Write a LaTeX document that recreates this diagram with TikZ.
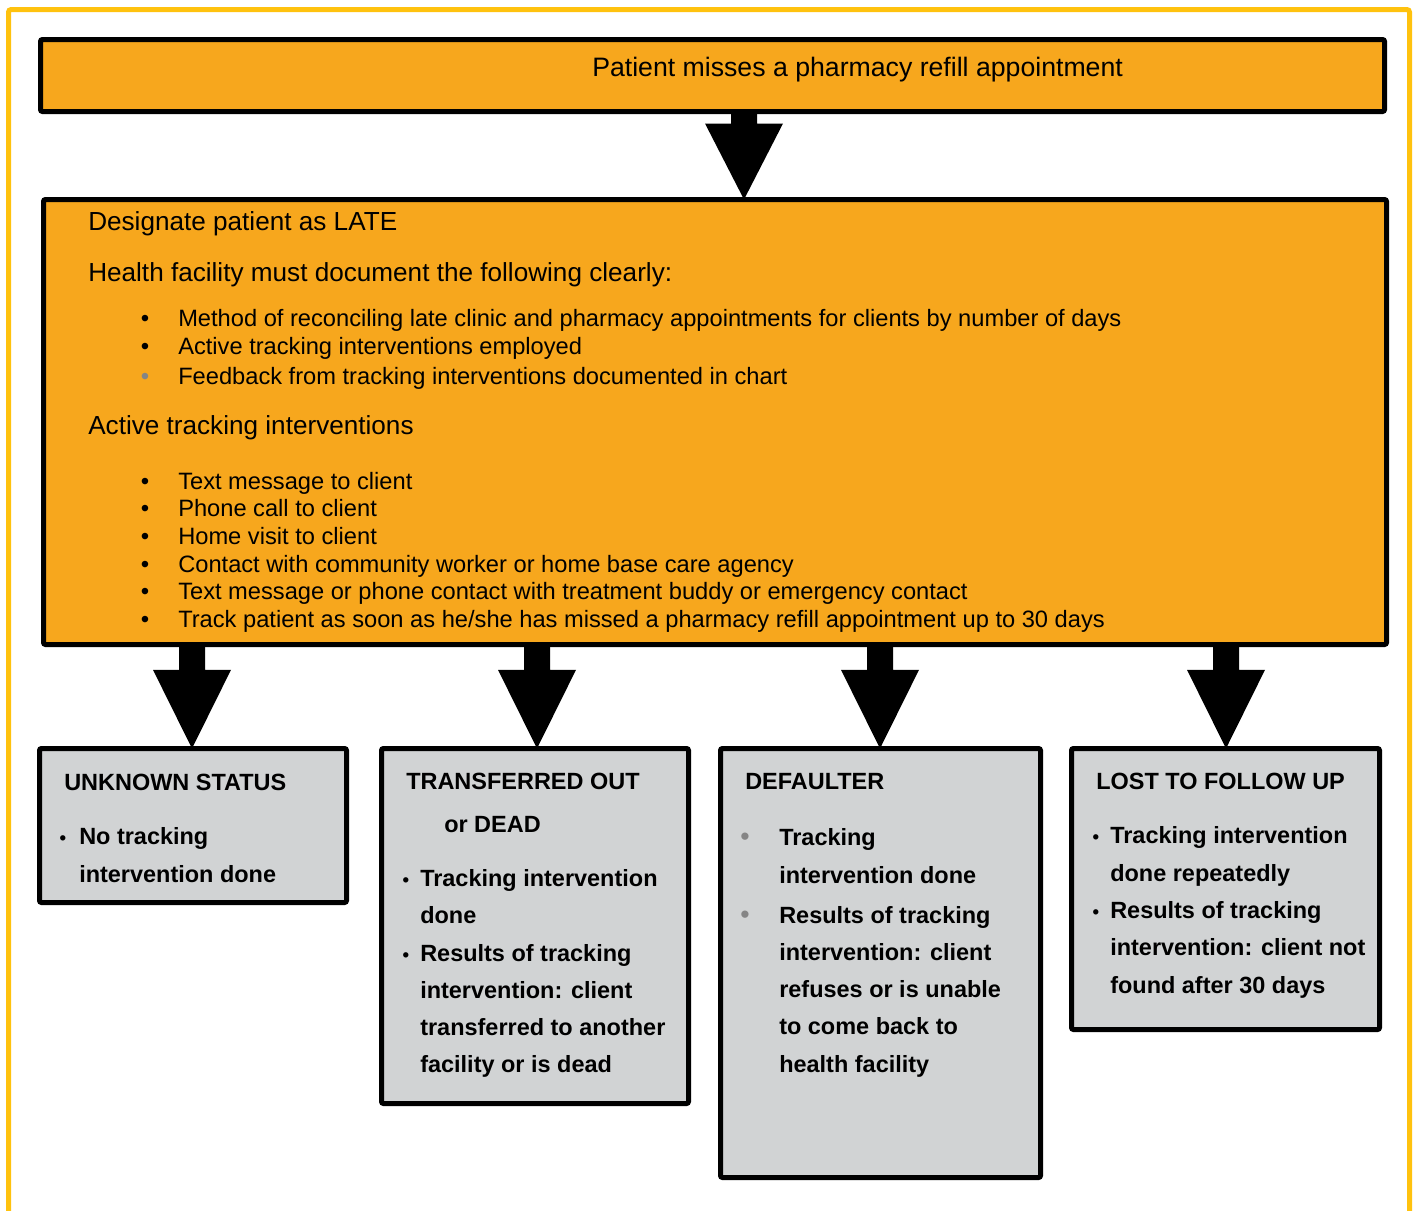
\documentclass[tikz,border=0pt]{standalone}
\usepackage{fontspec}
\setmainfont{Liberation Sans}
\usetikzlibrary{calc,fit}
\definecolor{frameyellow}{HTML}{FFC20E}
\definecolor{boxorange}{HTML}{F7A71D}
\definecolor{boxgray}{HTML}{D1D3D4}
\definecolor{bulgray}{HTML}{858585}
% #1 x (px), #2 from node, #3 to node, #4 head length
\newcommand\blockarrow[4]{%
  \fill let \p0=(#1,0), \p1=(#2.south), \p2=(#3.north) in
   (\x0-9.75pt,\y1) -- (\x0-9.75pt,\y2+#4) -- (\x0-29.25pt,\y2+#4) -- (\x0,\y2)
   -- (\x0+29.25pt,\y2+#4) -- (\x0+9.75pt,\y2+#4) -- (\x0+9.75pt,\y1) -- cycle;}
\begin{document}
\begin{tikzpicture}[x=0.75pt,y=-0.75pt,
  obox/.style={draw=black, line width=3.75pt, fill=boxorange, inner sep=0pt, outer sep=0pt, rounded corners=1.5pt},
  gbox/.style={draw=black, line width=3.75pt, fill=boxgray, inner sep=0pt, outer sep=0pt, rounded corners=1.5pt},
  txt/.style={anchor=base west, inner sep=0pt, font=\fontsize{17.75}{20}\selectfont},
  headtxt/.style={anchor=base west, inner sep=0pt, font=\fontsize{19.6}{22}\selectfont},
  gtxt/.style={anchor=base west, inner sep=0pt, font=\fontsize{17.6}{20}\selectfont\bfseries},
  bul/.style={anchor=base, inner sep=0pt, font=\fontsize{18}{20}\selectfont},
  gbul/.style={anchor=base, inner sep=0pt, font=\fontsize{14}{16}\selectfont\bfseries},
  dbul/.style={anchor=base, inner sep=0pt, text=bulgray, font=\fontsize{20}{20}\selectfont},
]
\useasboundingbox (0,0) rectangle (1416,1210);
\draw[frameyellow, line width=3.75pt, rounded corners=2pt] (8.5,1240) -- (8.5,9.5) -- (1409.5,9.5) -- (1409.5,1240);

% boxes
\node[obox, fit={(40.5,39.5) (1384.5,111.5)}] (top) {};
\node[obox, fit={(43.5,199.5) (1386.5,644.5)}] (main) {};
\node[gbox, fit={(39.5,748.5) (346.5,902.5)}] (g1) {};
\node[gbox, fit={(381.5,748.5) (688.5,1103.5)}] (g2) {};
\node[gbox, fit={(720.5,748.5) (1040.5,1177.5)}] (g3) {};
\node[gbox, fit={(1071.5,748.5) (1379.5,1029.5)}] (g4) {};

% arrows
\blockarrow{744}{top}{main}{57pt}
\blockarrow{192}{main}{g1}{59pt}
\blockarrow{537}{main}{g2}{59pt}
\blockarrow{880}{main}{g3}{59pt}
\blockarrow{1226}{main}{g4}{59pt}

% top text
\node[headtxt, font=\fontsize{20}{24}\selectfont] (t0) at (592,76.5) {Patient misses a pharmacy refill appointment};

% main box text
\node[headtxt] (m1) at (88,230) {Designate patient as LATE};
\node[headtxt] (m2) at (88,281) {Health facility must document the following clearly:};
\node[bul] (b1) at (145,326.5) {•};
\node[txt] (l1) at (178,326.5) {Method of reconciling late clinic and pharmacy appointments for clients by number of days};
\node[bul] (b2) at (145,354.5) {•};
\node[txt] (l2) at (178,354.5) {Active tracking interventions employed};
\node[bul, text=bulgray] (b3) at (145,384.5) {•};
\node[txt] (l3) at (178,384.5) {Feedback from tracking interventions documented in chart};
\node[headtxt] (m3) at (88,434) {Active tracking interventions};
\node[bul] (b4) at (145,489.5) {•};
\node[txt] (l4) at (178,489.5) {Text message to client};
\node[bul] (b5) at (145,516.5) {•};
\node[txt] (l5) at (178,516.5) {Phone call to client};
\node[bul] (b6) at (145,544.5) {•};
\node[txt] (l6) at (178,544.5) {Home visit to client};
\node[bul] (b7) at (145,572.5) {•};
\node[txt] (l7) at (178,572.5) {Contact with community worker or home base care agency};
\node[bul] (b8) at (145,599.5) {•};
\node[txt] (l8) at (178,599.5) {Text message or phone contact with treatment buddy or emergency contact};
\node[bul] (b9) at (145,627.5) {•};
\node[txt] (l9) at (178,627.5) {Track patient as soon as he/she has missed a pharmacy refill appointment up to 30 days};

% box 1
\node[gtxt] (g1t) at (64,790) {UNKNOWN STATUS};
\node[gbul] (g1b1) at (63,844) {•};
\node[gtxt] (g1l1) at (79,844) {No tracking};
\node[gtxt] (g1l2) at (79,882) {intervention done};

% box 2
\node[gtxt] (g2t) at (406,789) {TRANSFERRED OUT};
\node[gtxt] (g2t2) at (444,832) {or DEAD};
\node[gbul] (g2b1) at (406,886) {•};
\node[gtxt] (g2l1) at (420,886) {Tracking intervention};
\node[gtxt] (g2l2) at (420,923) {done};
\node[gbul] (g2b2) at (406,961) {•};
\node[gtxt] (g2l3) at (420,961) {Results of tracking};
\node[gtxt] (g2l4) at (420,998) {intervention: client};
\node[gtxt] (g2l5) at (420,1035) {transferred to another};
\node[gtxt] (g2l6) at (420,1072) {facility or is dead};

% box 3
\node[gtxt] (g3t) at (745,789) {DEFAULTER};
\node[dbul] (g3b1) at (745,845) {•};
\node[gtxt] (g3l1) at (779,845) {Tracking};
\node[gtxt] (g3l2) at (779,883) {intervention done};
\node[dbul] (g3b2) at (745,923) {•};
\node[gtxt] (g3l3) at (779,923) {Results of tracking};
\node[gtxt] (g3l4) at (779,960) {intervention: client};
\node[gtxt] (g3l5) at (779,997) {refuses or is unable};
\node[gtxt] (g3l6) at (779,1034) {to come back to};
\node[gtxt] (g3l7) at (779,1072) {health facility};

% box 4
\node[gtxt] (g4t) at (1096,789) {LOST TO FOLLOW UP};
\node[gbul] (g4b1) at (1096,843) {•};
\node[gtxt] (g4l1) at (1110,843) {Tracking intervention};
\node[gtxt] (g4l2) at (1110,881) {done repeatedly};
\node[gbul] (g4b2) at (1096,918) {•};
\node[gtxt] (g4l3) at (1110,918) {Results of tracking};
\node[gtxt] (g4l4) at (1110,955) {intervention: client not};
\node[gtxt] (g4l5) at (1110,993) {found after 30 days};
\end{tikzpicture}
\end{document}
